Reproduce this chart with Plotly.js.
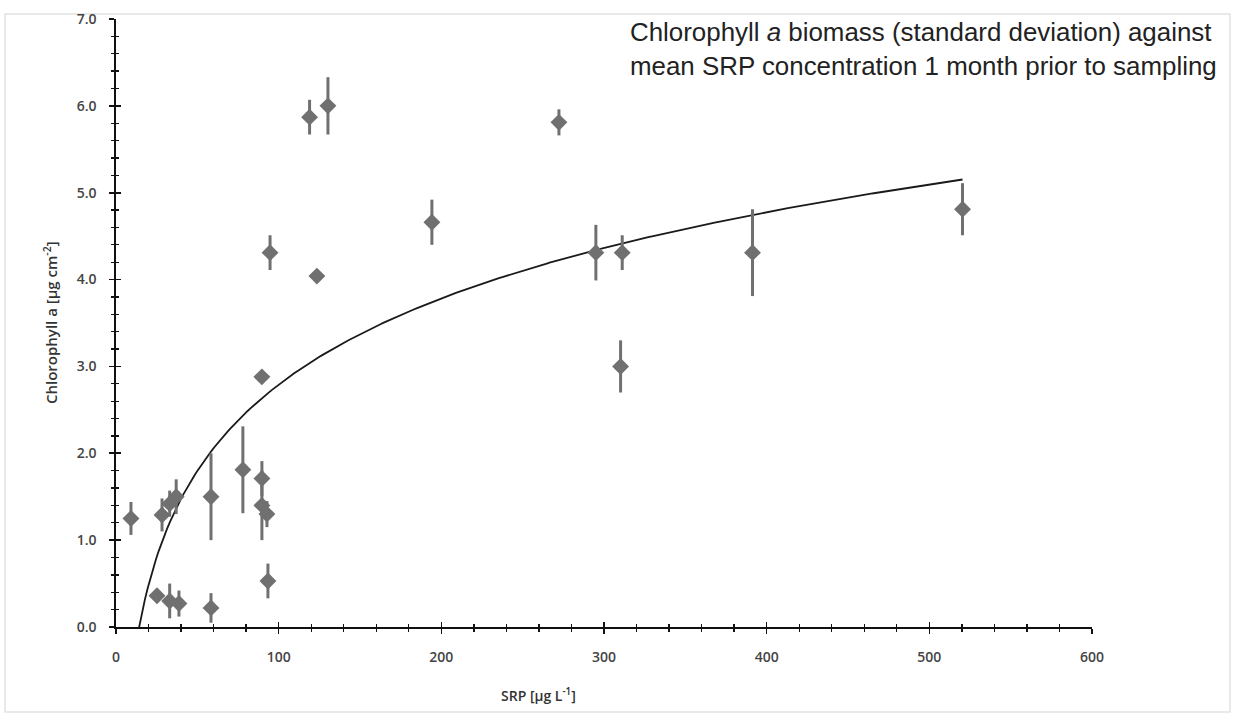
<!DOCTYPE html>
<html>
<head>
<meta charset="utf-8">
<script src="https://cdn.plot.ly/plotly-3.0.1.min.js"></script>
<style>html,body{margin:0;padding:0;background:#fff;}#chart{width:1235px;height:727px;}</style>
</head>
<body>
<div id="chart"></div>
<script>
// SRP (µg L-1) and chlorophyll a (µg cm-2) with standard deviation
var srp  = [9.2, 28.3, 33, 37, 58.4, 78, 89.7, 89.7, 92.8, 93.4, 25.2, 33, 38.7, 58.4, 89.7, 94.7, 119, 130.3, 123.5, 194.2, 272.3, 295, 311.2, 310.2, 391.3, 520.4];
var chl  = [1.25, 1.29, 1.42, 1.5, 1.5, 1.81, 1.71, 1.4, 1.3, 0.53, 0.36, 0.3, 0.27, 0.22, 2.88, 4.31, 5.87, 6.0, 4.04, 4.66, 5.81, 4.31, 4.31, 3.0, 4.31, 4.81];
var sd   = [0.19, 0.19, 0.15, 0.2, 0.5, 0.5, 0.2, 0.4, 0.15, 0.2, 0.05, 0.2, 0.15, 0.17, 0.03, 0.2, 0.2, 0.33, 0.05, 0.26, 0.15, 0.32, 0.2, 0.3, 0.5, 0.3];
var xTicks = [0, 100, 200, 300, 400, 500, 600];
var yTicks = [0, 1, 2, 3, 4, 5, 6, 7];

// logarithmic trendline fitted (least squares on ln x) to the data
var lx = srp.map(function(v){return Math.log(v);});
var n = lx.length, mx = 0, my = 0;
for (var i=0;i<n;i++){mx+=lx[i];my+=chl[i];}
mx/=n; my/=n;
var sxy=0, sxx=0;
for (var i=0;i<n;i++){sxy+=(lx[i]-mx)*(chl[i]-my); sxx+=(lx[i]-mx)*(lx[i]-mx);}
var slope = sxy/sxx, icpt = my - slope*mx;
var xmin = Math.min.apply(null, srp), xmax = Math.max.apply(null, srp);
var tx = [], ty = [];
for (var k=0;k<=300;k++){ var xv = xmin + (xmax-xmin)*k/300; tx.push(xv); ty.push(slope*Math.log(xv)+icpt); }

var traces = [
  {x: tx, y: ty, mode:'lines', line:{color:'#1a1a1a', width:1.8}, hoverinfo:'skip', showlegend:false},
  {x: srp, y: chl, mode:'markers', type:'scatter', showlegend:false,
   marker:{symbol:'diamond', size:13, color:'#707070'},
   error_y:{type:'data', array: sd, visible:true, color:'#707070', thickness:3, width:0}},
  {x:[0], y:[0], xaxis:'x2', yaxis:'y2', mode:'markers', marker:{opacity:0}, showlegend:false, hoverinfo:'skip'}
];

var tickFont = {family:'"Open Sans", "DejaVu Sans", sans-serif', size:14, color:'#444', weight:600};
var layout = {
  width:1235, height:727,
  margin:{l:116, r:143, t:19, b:100},
  paper_bgcolor:'#fff', plot_bgcolor:'#fff',
  showlegend:false,
  xaxis:{range:[0,600], tickvals:xTicks, ticktext:xTicks.map(String), showgrid:false, zeroline:false,
         showline:true, linecolor:'#111', linewidth:1.6, ticks:'outside', ticklen:5, tickwidth:1.6, tickcolor:'#111',
         tickfont:tickFont, ticklabelstandoff:12,
         minor:{dtick:20, ticks:'outside', ticklen:3, tickwidth:1.3, tickcolor:'#111', showgrid:false}},
  yaxis:{range:[0,7], tickvals:yTicks, ticktext:yTicks.map(function(v){return v.toFixed(1);}), showgrid:false, zeroline:false,
         showline:true, linecolor:'#111', linewidth:1.6, ticks:'outside', ticklen:5, tickwidth:1.6, tickcolor:'#111',
         tickfont:tickFont, ticklabelstandoff:10,
         minor:{dtick:0.2, ticks:'outside', ticklen:3, tickwidth:1.3, tickcolor:'#111', showgrid:false}},
  xaxis2:{overlaying:'x', range:[0,600], tickvals:xTicks, showticklabels:false, showgrid:false, zeroline:false, showline:false,
          ticks:'inside', ticklen:5, tickwidth:1.6, tickcolor:'#111',
          minor:{dtick:20, ticks:'inside', ticklen:3, tickwidth:1.3, tickcolor:'#111', showgrid:false}},
  yaxis2:{overlaying:'y', range:[0,7], tickvals:yTicks, showticklabels:false, showgrid:false, zeroline:false, showline:false,
          ticks:'inside', ticklen:5, tickwidth:1.6, tickcolor:'#111',
          minor:{dtick:0.2, ticks:'inside', ticklen:3, tickwidth:1.3, tickcolor:'#111', showgrid:false}},
  annotations:[
    {xref:'paper', yref:'paper', x:(628-116)/976, y:(627-49)/608, xanchor:'left', yanchor:'middle', align:'left', showarrow:false,
     text:'Chlorophyll <i>a</i> biomass (standard deviation) against<br>mean SRP concentration 1 month prior to sampling',
     font:{family:'"Liberation Sans", Arial, sans-serif', size:25.9, color:'#222'}},
    {xref:'paper', yref:'paper', x:(538-116)/976, y:-(695-627)/608, xanchor:'center', yanchor:'middle', showarrow:false,
     text:'SRP [µg L<sup>-1</sup>]', font:{family:'"Open Sans", "DejaVu Sans", sans-serif', size:14, color:'#333', weight:600}},
    {xref:'paper', yref:'paper', x:(50-116)/976, y:(627-323)/608, xanchor:'center', yanchor:'middle', showarrow:false, textangle:-90,
     text:'Chlorophyll a [µg cm<sup>-2</sup>]', font:{family:'"Open Sans", "DejaVu Sans", sans-serif', size:15, color:'#333', weight:600}}
  ],
  shapes:[
    {type:'rect', xref:'paper', yref:'paper', x0:-111/976, x1:(1230-116)/976, y0:-(712-627)/608, y1:(627-14)/608,
     line:{color:'#e2e2e2', width:1.5}, fillcolor:'rgba(0,0,0,0)', layer:'below'}
  ]
};
Plotly.newPlot('chart', traces, layout, {displayModeBar:false, staticPlot:true});
</script>
</body>
</html>
